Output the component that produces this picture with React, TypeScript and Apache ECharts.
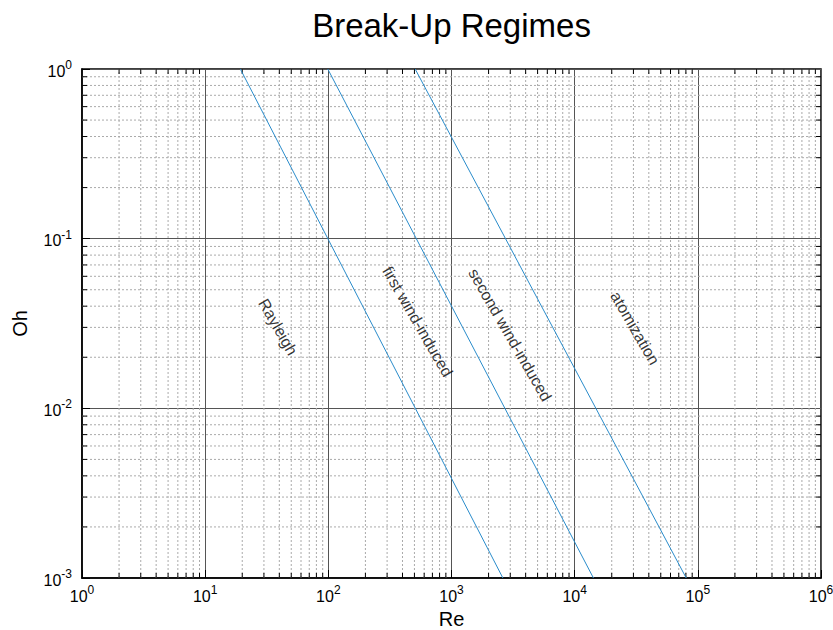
import { useEffect, useRef } from "react";
import * as echarts from "echarts";

// Axis ranges (Reynolds and Ohnesorge numbers)
const reRange = [1, 1e6];
const ohRange = [1e-3, 1];

// Decade exponents carrying minor grid lines
const reMinorDecades = [0, 1, 2, 3, 4, 5];
const ohMinorDecades = [-3, -2, -1];
const minorMultipliers = [2, 3, 4, 5, 6, 7, 8, 9];

// Regime boundaries, each given by its end points [Re, Oh]
const rayleighBoundary = [
  [19.3, 1],
  [2613, 0.001],
];
const firstWindBoundary = [
  [99, 1],
  [14200, 0.001],
];
const secondWindBoundary = [
  [507, 1],
  [80500, 0.001],
];

// Regime names and where they are written
const regimeNames = ["Rayleigh", "first wind-induced", "second wind-induced", "atomization"];
const regimeRe = [39.0, 530, 2985, 30900];
const regimeOh = [0.0302, 0.0325, 0.0271, 0.0297];

const FONT = "Liberation Sans, Arial, Helvetica, sans-serif";
const LINE_BLUE = "#2a8ccb";

const powerLabel = (value: number) => {
  const e = Math.round(Math.log10(value));
  return `{b|10}{s|${e}}`;
};

const labelRich = {
  b: { fontSize: 16, fontFamily: FONT, color: "#000", verticalAlign: "bottom", lineHeight: 20 },
  s: { fontSize: 12, fontFamily: FONT, color: "#000", verticalAlign: "top", lineHeight: 20 },
};

export default function App() {
  const ref = useRef<HTMLDivElement>(null);

  useEffect(() => {
    if (!ref.current) return;
    const chart = echarts.init(ref.current, null, { renderer: "svg" });

    const minorData: number[][] = [];
    reMinorDecades.forEach((k) =>
      minorMultipliers.forEach((m) => minorData.push([m * Math.pow(10, k), ohRange[1], 0]))
    );
    ohMinorDecades.forEach((k) =>
      minorMultipliers.forEach((m) => minorData.push([reRange[0], m * Math.pow(10, k), 1]))
    );

    const boundaries = [rayleighBoundary, firstWindBoundary, secondWindBoundary];

    chart.setOption({
      animation: false,
      backgroundColor: "#fff",
      graphic: [
        {
          type: "text",
          x: 451.5,
          y: 9,
          style: {
            text: "Break-Up Regimes",
            fontSize: 33,
            fontFamily: FONT,
            fill: "#000",
            textAlign: "center",
            textVerticalAlign: "top",
          },
        },
      ],
      grid: {
        left: 82,
        right: 12,
        top: 69,
        bottom: 52,
        outerBoundsMode: "none",
        containLabel: false,
        show: true,
        borderColor: "#000",
        borderWidth: 1.5,
        backgroundColor: "transparent",
      },
      xAxis: {
        type: "log",
        logBase: 10,
        min: reRange[0],
        max: reRange[1],
        name: "Re",
        nameLocation: "middle",
        nameGap: 27,
        nameTextStyle: { fontSize: 20, fontFamily: FONT, color: "#000" },
        axisLine: { show: true, lineStyle: { color: "#000", width: 1.5 } },
        axisTick: { show: true, inside: true, length: 8, lineStyle: { color: "#000" } },
        axisLabel: { formatter: powerLabel, rich: labelRich, margin: 6, color: "#000" },
        splitLine: { show: true, lineStyle: { color: "#555", width: 1 } },
      },
      yAxis: {
        type: "log",
        logBase: 10,
        min: ohRange[0],
        max: ohRange[1],
        name: "Oh",
        nameLocation: "middle",
        nameGap: 52,
        nameRotate: 90,
        nameTextStyle: { fontSize: 20, fontFamily: FONT, color: "#000" },
        axisLine: { show: true, lineStyle: { color: "#000", width: 1.5 } },
        axisTick: { show: true, inside: true, length: 8, lineStyle: { color: "#000" } },
        axisLabel: { formatter: powerLabel, rich: labelRich, margin: 10, color: "#000" },
        splitLine: { show: true, lineStyle: { color: "#555", width: 1 } },
      },
      series: [
        {
          // minor grid lines with their inner tick marks on both edges
          type: "custom",
          silent: true,
          z: 1,
          encode: { x: 0, y: 1 },
          data: minorData,
          renderItem: (_params: any, api: any) => {
            const vertical = api.value(2) === 0;
            const v = vertical ? api.value(0) : api.value(1);
            const p0 = vertical ? api.coord([v, ohRange[0]]) : api.coord([reRange[0], v]);
            const p1 = vertical ? api.coord([v, ohRange[1]]) : api.coord([reRange[1], v]);
            const t = 5;
            const tickStyle = { stroke: "#000", lineWidth: 1 };
            return {
              type: "group",
              children: [
                {
                  type: "line",
                  shape: { x1: p0[0], y1: p0[1], x2: p1[0], y2: p1[1] },
                  style: { stroke: "#aaa", lineWidth: 1, lineDash: [2, 2] },
                },
                {
                  type: "line",
                  shape: vertical
                    ? { x1: p0[0], y1: p0[1], x2: p0[0], y2: p0[1] - t }
                    : { x1: p0[0], y1: p0[1], x2: p0[0] + t, y2: p0[1] },
                  style: tickStyle,
                },
                {
                  type: "line",
                  shape: vertical
                    ? { x1: p1[0], y1: p1[1], x2: p1[0], y2: p1[1] + t }
                    : { x1: p1[0], y1: p1[1], x2: p1[0] - t, y2: p1[1] },
                  style: tickStyle,
                },
              ],
            };
          },
        },
        ...boundaries.map((pts) => ({
          type: "line",
          data: pts,
          showSymbol: false,
          symbol: "none",
          silent: true,
          z: 3,
          lineStyle: { color: LINE_BLUE, width: 1 },
        })),
        {
          type: "scatter",
          silent: true,
          z: 4,
          symbolSize: 0,
          data: regimeNames.map((name, i) => ({ name, value: [regimeRe[i], regimeOh[i]] })),
          label: {
            show: true,
            position: "inside",
            rotate: -60,
            formatter: "{b}",
            fontSize: 16,
            fontFamily: FONT,
            color: "#000",
          },
        },
      ],
    });

    return () => chart.dispose();
  }, []);

  return (
    <div
      ref={ref}
      style={{ position: "fixed", left: 0, top: 0, width: 833, height: 630, background: "#fff" }}
    />
  );
}
